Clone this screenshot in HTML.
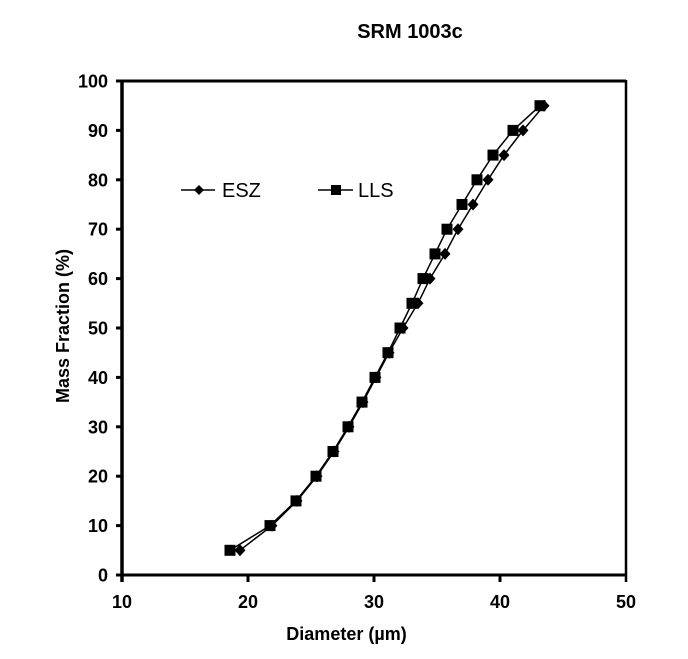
<!DOCTYPE html>
<html><head><meta charset="utf-8"><style>
html,body{margin:0;padding:0;background:#fff;}
svg{display:block;}
text{font-family:"Liberation Sans",Arial,sans-serif;fill:#000;}
.b{font-weight:bold;}
</style></head><body>
<svg width="688" height="659" viewBox="0 0 688 659" xmlns="http://www.w3.org/2000/svg">
<defs>
<rect id="sq" x="-5.5" y="-5.5" width="11" height="11" fill="#000"/>
<polygon id="dm" points="0,-6 5.5,0 0,6 -5.5,0" fill="#000"/>
</defs>
<text class="b" x="410" y="38" font-size="20" text-anchor="middle">SRM 1003c</text>
<!-- frame -->
<line x1="122" y1="81" x2="626" y2="81" stroke="#000" stroke-width="3"/>
<line x1="626" y1="80" x2="626" y2="582" stroke="#000" stroke-width="2.5"/>
<line x1="122" y1="80" x2="122" y2="582" stroke="#000" stroke-width="3.5"/>
<line x1="116" y1="575" x2="627" y2="575" stroke="#000" stroke-width="3"/>
<!-- x ticks -->
<g stroke="#000" stroke-width="3">
<line x1="248" y1="575" x2="248" y2="582"/>
<line x1="374" y1="575" x2="374" y2="582"/>
<line x1="500" y1="575" x2="500" y2="582"/>
</g>
<!-- y ticks -->
<g stroke="#000" stroke-width="3">
<line x1="116" y1="81" x2="122" y2="81"/>
<line x1="116" y1="130.4" x2="122" y2="130.4"/>
<line x1="116" y1="179.8" x2="122" y2="179.8"/>
<line x1="116" y1="229.2" x2="122" y2="229.2"/>
<line x1="116" y1="278.6" x2="122" y2="278.6"/>
<line x1="116" y1="328" x2="122" y2="328"/>
<line x1="116" y1="377.4" x2="122" y2="377.4"/>
<line x1="116" y1="426.8" x2="122" y2="426.8"/>
<line x1="116" y1="476.2" x2="122" y2="476.2"/>
<line x1="116" y1="525.6" x2="122" y2="525.6"/>
</g>
<g class="b" font-size="18" text-anchor="end">
<text x="108" y="87.5">100</text>
<text x="108" y="136.9">90</text>
<text x="108" y="186.3">80</text>
<text x="108" y="235.7">70</text>
<text x="108" y="285.1">60</text>
<text x="108" y="334.5">50</text>
<text x="108" y="383.9">40</text>
<text x="108" y="433.3">30</text>
<text x="108" y="482.7">20</text>
<text x="108" y="532.1">10</text>
<text x="108" y="581.5">0</text>
</g>
<g class="b" font-size="18" text-anchor="middle">
<text x="122" y="608">10</text>
<text x="248" y="608">20</text>
<text x="374" y="608">30</text>
<text x="500" y="608">40</text>
<text x="626" y="608">50</text>
</g>
<text class="b" x="346.5" y="640" font-size="18" text-anchor="middle">Diameter (µm)</text>
<text class="b" font-size="18" text-anchor="middle" textLength="154" lengthAdjust="spacingAndGlyphs" transform="translate(69,326) rotate(-90)">Mass Fraction (%)</text>
<!-- series lines -->
<polyline fill="none" stroke="#000" stroke-width="1.5" points="240,550.3 272,525.6 297,500.9 317,476.2 334,451.5 349,426.8 363,402.1 376,377.4 389,352.7 403,328 418,303.3 430,278.6 445,253.9 458,229.2 473,204.5 488,179.8 504,155.1 523,130.4 544,105.7"/>
<polyline fill="none" stroke="#000" stroke-width="1.5" points="230,550.3 270,525.6 296,500.9 316,476.2 333,451.5 348,426.8 362,402.1 375,377.4 388,352.7 400,328 412,303.3 423,278.6 435,253.9 447,229.2 462,204.5 477,179.8 493,155.1 513,130.4 540,105.7"/>
<!-- ESZ markers -->
<g>
<use href="#dm" x="240" y="550.3"/><use href="#dm" x="272" y="525.6"/><use href="#dm" x="297" y="500.9"/><use href="#dm" x="317" y="476.2"/><use href="#dm" x="334" y="451.5"/><use href="#dm" x="349" y="426.8"/><use href="#dm" x="363" y="402.1"/><use href="#dm" x="376" y="377.4"/><use href="#dm" x="389" y="352.7"/><use href="#dm" x="403" y="328"/><use href="#dm" x="418" y="303.3"/><use href="#dm" x="430" y="278.6"/><use href="#dm" x="445" y="253.9"/><use href="#dm" x="458" y="229.2"/><use href="#dm" x="473" y="204.5"/><use href="#dm" x="488" y="179.8"/><use href="#dm" x="504" y="155.1"/><use href="#dm" x="523" y="130.4"/><use href="#dm" x="544" y="105.7"/>
</g>
<!-- LLS markers -->
<g>
<use href="#sq" x="230" y="550.3"/><use href="#sq" x="270" y="525.6"/><use href="#sq" x="296" y="500.9"/><use href="#sq" x="316" y="476.2"/><use href="#sq" x="333" y="451.5"/><use href="#sq" x="348" y="426.8"/><use href="#sq" x="362" y="402.1"/><use href="#sq" x="375" y="377.4"/><use href="#sq" x="388" y="352.7"/><use href="#sq" x="400" y="328"/><use href="#sq" x="412" y="303.3"/><use href="#sq" x="423" y="278.6"/><use href="#sq" x="435" y="253.9"/><use href="#sq" x="447" y="229.2"/><use href="#sq" x="462" y="204.5"/><use href="#sq" x="477" y="179.8"/><use href="#sq" x="493" y="155.1"/><use href="#sq" x="513" y="130.4"/><use href="#sq" x="540" y="105.7"/>
</g>
<!-- legend -->
<line x1="181" y1="190" x2="215" y2="190" stroke="#000" stroke-width="1.5"/>
<polygon points="199,185 204,190 199,195 194,190" fill="#000"/>
<text x="222" y="197" font-size="20">ESZ</text>
<line x1="318" y1="190" x2="353" y2="190" stroke="#000" stroke-width="1.5"/>
<rect x="331" y="185" width="10" height="10" fill="#000"/>
<text x="358" y="197" font-size="20">LLS</text>
</svg>
</body></html>
